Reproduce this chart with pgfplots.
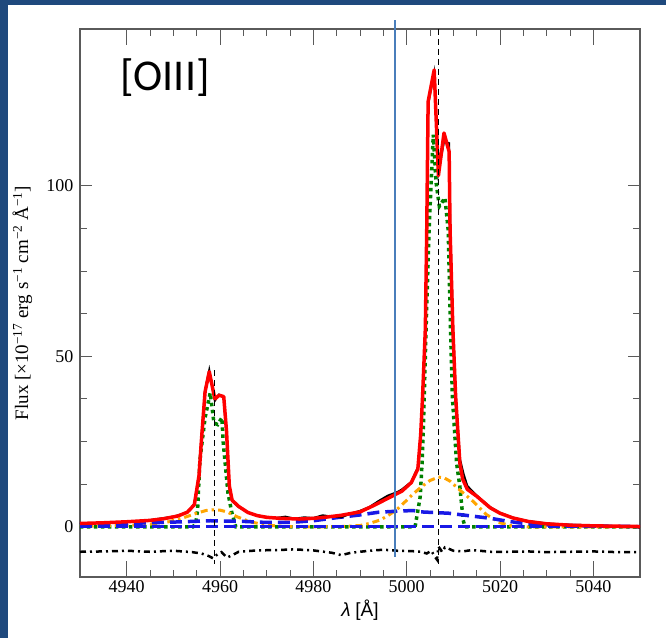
\documentclass[border=0pt]{standalone}
\usepackage{fontspec}
\setmainfont{Liberation Serif}
\newfontfamily\sansf{Liberation Sans}
\newfontfamily\calibri{Carlito}
\usepackage{pgfplots}
\pgfplotsset{compat=1.18}
\definecolor{slideblue}{RGB}{31,73,125}
\definecolor{vline}{RGB}{74,126,187}
\definecolor{dgreen}{RGB}{0,128,0}
\definecolor{orng}{RGB}{255,165,0}
\definecolor{bblue}{RGB}{25,25,230}
\definecolor{axgray}{RGB}{90,90,90}
\begin{document}
\begin{tikzpicture}
\fill[white] (-80pt,-61pt) rectangle (586pt,577pt);
\fill[slideblue] (-80pt,-61pt) rectangle (-72pt,577pt);
\fill[slideblue] (-80pt,572pt) rectangle (586pt,577pt);
\useasboundingbox (-80pt,-61pt) rectangle (586pt,577pt);
\begin{axis}[
 at={(0pt,0pt)}, anchor=south west,
 width=560pt, height=548pt, scale only axis,
 xmin=4930, xmax=5050, ymin=-14.7, ymax=146,
 xtick={4940,4960,...,5040}, ytick={0,50,100},
 minor x tick num=3, minor y tick num=3,
 tick align=inside, major tick length=12pt, minor tick length=7pt,
 major x tick style={/pgfplots/major tick length=16pt},
 axis line style={axgray, line width=1.2pt},
 every tick/.style={axgray, line width=1pt},
 tick label style={font=\fontsize{18}{20}\selectfont, /pgf/number format/assume math mode=true},
 yticklabel style={xshift=-3pt},
 /pgf/number format/1000 sep={},
 label style={font=\fontsize{19}{22}\selectfont},
 xlabel={{\sansf\itshape λ} {\sansf [Å]}},
 xlabel style={at={(axis description cs:0.5,-0.0602)}, anchor=center},
 ylabel={Flux [×10\textsuperscript{−17} erg s\textsuperscript{−1} cm\textsuperscript{−2} Å\textsuperscript{−1}]},
 ylabel style={at={(axis description cs:-0.1027,0.5)}, anchor=center},
 clip=false,
]
% green narrow components
\addplot[dgreen, line width=3.5pt, dash pattern=on 3.5pt off 3.5pt] coordinates {
(4930,0) (4954.2,0) (4954.8,1) (4955.2,5) (4955.7,19.6) (4956.8,32) (4957.9,39.3) (4958.7,30.5) (4959.5,30) (4960.4,32) (4960.7,24.6) (4961.7,10) (4962.5,4.4) (4963.4,0) (5001.8,0) (5002.9,8.8) (5003.3,18.7) (5003.6,30) (5003.9,45) (5004.2,60) (5004.8,87) (5005.7,115) (5006.3,101) (5007,94) (5008.2,96.5) (5008.9,87) (5009.4,57.8) (5009.8,38) (5010.7,18.7) (5011.4,11.8) (5012.1,2) (5012.5,0) (5050,0)};
% orange broad component
\addplot[orng, line width=3pt, dash pattern=on 7pt off 4pt on 2.5pt off 4pt] coordinates {
(4930,0.2) (4940,0.4) (4945,0.8) (4949,1.5) (4952,2.6) (4955,4.0) (4957,4.8) (4958.6,5.0) (4960,4.9) (4961.5,4.4) (4963.6,3.0) (4966.4,1.5) (4970,0.5) (4974,0.1) (4980,0.0) (4986,0.1) (4990,0.4) (4992,1.0) (4994.3,2.0) (4996,3.3) (4998,5.2) (5000,7.8) (5001.5,9.8) (5003.2,11.8) (5005,13.6) (5006.8,14.6) (5008,14.4) (5009.3,13.4) (5011.4,10.8) (5014.3,7.4) (5017.1,3.6) (5020,1.2) (5022.8,0.2) (5026,0.0) (5050,0.0)};
% blue lower
\addplot[bblue, line width=3.5pt, dash pattern=on 12pt off 6pt] coordinates {(4930,0.1) (5050,0.1)};
% blue upper
\addplot[bblue, line width=3.5pt, dash pattern=on 12pt off 6pt] coordinates {
(4930,0.7) (4935,0.8) (4940,1.0) (4945,1.2) (4950,1.4) (4958,1.8) (4965,1.6) (4970,1.3) (4975,1.3) (4980,1.8) (4985,2.7) (4990,3.5) (4994,4.3) (4998,4.6) (5001.4,4.8) (5003,4.4) (5006,4.2) (5009,4.0) (5012,3.5) (5015,3.0) (5018,2.5) (5021,1.8) (5024,1.2) (5028,0.7) (5035,0.4) (5042,0.2) (5050,0.1)};
% black data
\addplot[black, line width=2pt] coordinates {
(4930,0.9) (4933,1.1) (4936,1.2) (4939,1.4) (4942,1.6) (4945,2.0) (4948,2.6) (4950,3.0) (4952,3.8) (4953.5,4.8) (4954.5,6.8) (4955.5,15.5) (4956,26) (4956.8,40) (4957.7,46) (4958.9,37) (4959.8,38.8) (4960.8,38) (4961.4,27) (4962,12) (4962.6,7.6) (4964,5.8) (4966,4.3) (4968,3.2) (4970,2.9) (4972,2.6) (4974,3.0) (4976,2.4) (4978,2.8) (4980,2.6) (4982,3.4) (4984,3.0) (4986,2.8) (4988,3.9) (4990,4.7) (4992,5.8) (4994,7.6) (4996,9.2) (4998,10.2) (4999,11) (5001,13.2) (5002.4,17.5) (5003,27) (5003.4,38) (5004,58) (5004.3,87) (5004.6,124) (5005.9,133) (5006.8,104) (5008.0,113) (5009.1,112.5) (5009.3,90) (5009.9,60) (5010.5,39) (5011.4,20) (5012.2,15.5) (5013,12) (5015,9.2) (5017.9,5.8) (5020,4.1) (5022.8,2.7) (5026,1.7) (5030,1.0) (5035,0.6) (5040,0.5) (5045,0.1) (5050,-0.2)};
% red total model
\addplot[red, line width=3.5pt, line join=round] coordinates {
(4930,1.0) (4935,1.2) (4940,1.5) (4945,1.9) (4948,2.4) (4951,3.2) (4953,4.3) (4954.5,6.5) (4955.5,15) (4956,25) (4956.8,39.6) (4957.7,45.5) (4958.9,37.5) (4959.8,38.6) (4960.8,38.2) (4961.4,28) (4962,12) (4962.6,7.8) (4964,6) (4966,4.2) (4968,3.3) (4970,2.8) (4973,2.5) (4977,2.3) (4980,2.5) (4983,2.9) (4986,3.4) (4990,4.4) (4993,6.3) (4996,8.4) (4999,10.5) (5001,13) (5002.4,17) (5003,27) (5003.4,38) (5004,58) (5004.3,87) (5004.6,124.7) (5005.9,134) (5006.8,103) (5008.0,115.5) (5009.1,110) (5009.3,87) (5009.9,58) (5010.5,38) (5011.4,18.7) (5012,14) (5013,11) (5015,9) (5017.9,5.6) (5020,4) (5022.8,2.6) (5026,1.6) (5030,0.9) (5035,0.5) (5040,0.3) (5045,0.2) (5050,0.1)};
% residuals
\addplot[black, line width=2.5pt, dash pattern=on 6pt off 4pt on 2pt off 4pt] coordinates {
(4930,-7.3) (4935,-7.2) (4940,-7.0) (4945,-7.3) (4950,-7.0) (4954,-7.4) (4956,-7.8) (4957.5,-8.5) (4958.5,-9.2) (4959.5,-8.0) (4960.3,-7.4) (4961.5,-9.0) (4962.5,-8.4) (4964,-7.3) (4968,-6.9) (4972,-6.8) (4976,-6.6) (4980,-6.9) (4984,-7.6) (4986,-8.3) (4988,-7.6) (4992,-7.0) (4995,-6.7) (4998,-7.0) (5001,-7.1) (5003,-7.3) (5004.3,-7.8) (5005.3,-7.0) (5006,-8.7) (5006.5,-9.6) (5006.8,-5.8) (5007.2,-6.5) (5007.6,-7.4) (5008.2,-6.0) (5009,-6.4) (5010,-7.0) (5012,-7.2) (5014,-6.8) (5018,-7.3) (5022,-7.3) (5026,-7.2) (5030,-7.4) (5035,-7.3) (5040,-7.2) (5045,-7.4) (5050,-7.4)};
% line centres
\addplot[black, line width=1pt, dash pattern=on 6pt off 4pt] coordinates {(4958.9,46) (4958.9,-11)};
\addplot[black, line width=1pt, dash pattern=on 6pt off 4pt] coordinates {(5006.8,146) (5006.8,-11)};
% blue overlay line
\addplot[vline, line width=2pt] coordinates {(4997.4,-8.7) (4997.4,148.5)};
\node[font=\calibri\fontsize{44}{48}\selectfont, inner sep=0pt, anchor=center] at (axis cs:4948.2,131.8) {[OIII]};
\end{axis}
\end{tikzpicture}
\end{document}
